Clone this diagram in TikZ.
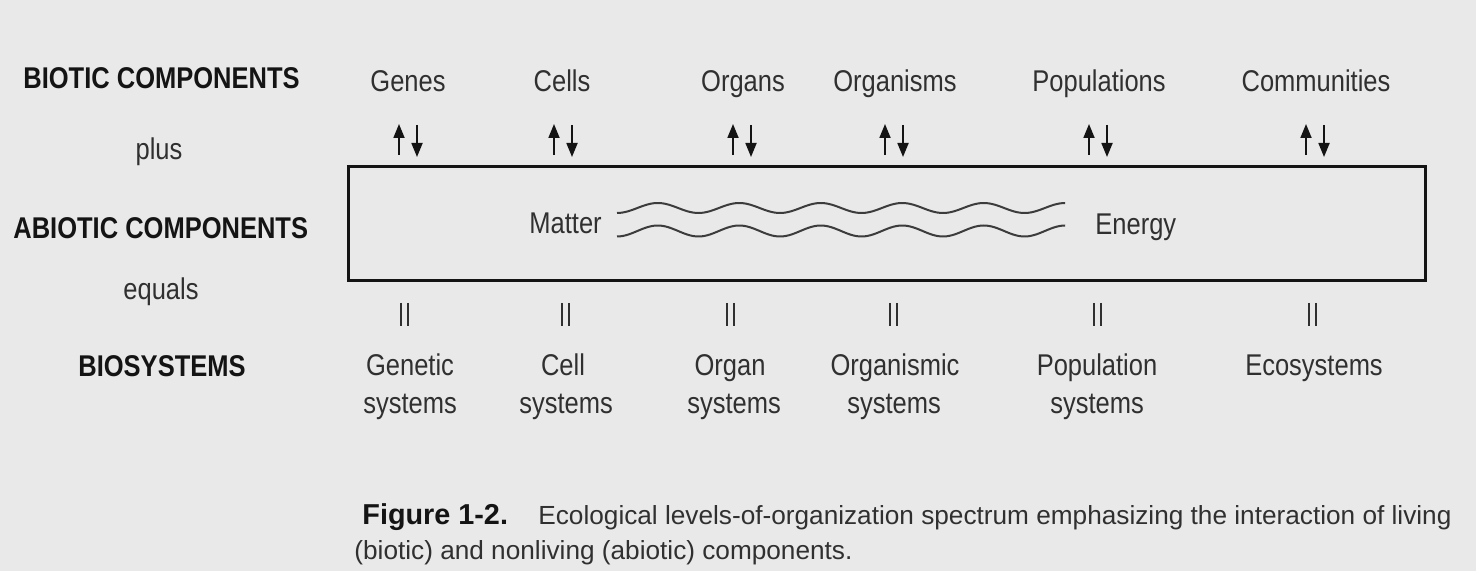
\documentclass[tikz,border=0pt]{standalone}
\usepackage{fontspec}
\setmainfont{Liberation Sans}
\newfontfamily\narrowfont{Liberation Sans}[FakeStretch=0.85]
\usetikzlibrary{arrows.meta}
\definecolor{bg}{RGB}{233,233,233}
\definecolor{ink}{RGB}{48,48,48}
\definecolor{inkdark}{RGB}{20,20,20}
\definecolor{rule}{RGB}{20,20,20}
\definecolor{wave}{RGB}{60,60,60}
\begin{document}
\begin{tikzpicture}[x=0.5pt,y=-0.5pt,
  lab/.style={inner sep=0pt, anchor=base, text=ink, font=\narrowfont\fontsize{15}{18}\selectfont},
  labw/.style={inner sep=0pt, anchor=base west, text=ink, font=\narrowfont\fontsize{15}{18}\selectfont},
  head/.style={inner sep=0pt, anchor=base west, text=inkdark, font=\narrowfont\bfseries\fontsize{15}{18}\selectfont},
  capb/.style={inner sep=0pt, anchor=base west, text=inkdark, font=\bfseries\fontsize{14.4}{17}\selectfont},
  capr/.style={inner sep=0pt, anchor=base west, text=ink, font=\fontsize{13.1}{16}\selectfont},
  flow/.style={draw=inkdark, line width=0.9pt, -{Triangle[width=5.5pt,length=7pt]}},
  eqbar/.style={draw=ink, line width=1pt},
  frame/.style={draw=rule, line width=1.5pt},
  wavy/.style={draw=wave, line width=1pt}
]
\fill[bg] (0,0) rectangle (1476,571);
\useasboundingbox (0,0) rectangle (1476,571);

% row labels
\node[head] (biotic) at (23,89) {BIOTIC COMPONENTS};
\node[lab] (plus) at (159,160) {plus};
\node[head] (abiotic) at (13,239) {ABIOTIC COMPONENTS};
\node[lab] (equals) at (161,300) {equals};
\node[head] (biosys) at (78,376) {BIOSYSTEMS};

% biotic components
\node[lab] (genes) at (408,92) {Genes};
\node[lab] (cells) at (562,92) {Cells};
\node[lab] (organs) at (743,92) {Organs};
\node[lab] (organisms) at (895,92) {Organisms};
\node[lab] (populations) at (1099,92) {Populations};
\node[lab] (communities) at (1316,92) {Communities};

% abiotic box
\node[draw=none, inner sep=0pt, minimum width=538.5pt, minimum height=56.5pt, anchor=north west] (box) at (348,167) {};
\draw[frame] (box.north west) rectangle (box.south east);
\node[labw] (matter) at (529,234) {Matter};
\node[labw] (energy) at (1095,235) {Energy};
\draw[wavy] plot[domain=0:5.5, samples=160, smooth] ({617+81.5*\x}, {208+5*cos(360*\x)});
\draw[wavy] plot[domain=0:5.5, samples=160, smooth] ({617+81.5*\x}, {231+5.5*cos(360*\x)});

% exchange arrows
\foreach \n/\c in {genes/408, cells/563, organs/742, organisms/894, populations/1098, communities/1315} {
  \coordinate (\n-ua) at (\c-9,155);
  \coordinate (\n-ub) at (\c-9,124);
  \coordinate (\n-da) at (\c+9,125);
  \coordinate (\n-db) at (\c+9,157);
  \draw[flow] (\n-ua) -- (\n-ub);
  \draw[flow] (\n-da) -- (\n-db);
}

% equals bars
\foreach \n/\c in {genes/404, cells/565, organs/730, organisms/893, populations/1097, communities/1312} {
  \coordinate (\n-e1) at (\c-3.5,303);
  \coordinate (\n-e2) at (\c-3.5,326);
  \coordinate (\n-e3) at (\c+3.5,303);
  \coordinate (\n-e4) at (\c+3.5,326);
  \draw[eqbar] (\n-e1) -- (\n-e2);
  \draw[eqbar] (\n-e3) -- (\n-e4);
}

% biosystems
\node[lab] (gen1) at (410,375) {Genetic};
\node[lab] (gen2) at (410,413) {systems};
\node[lab] (cel1) at (563,375) {Cell};
\node[lab] (cel2) at (566,413) {systems};
\node[lab] (org1) at (730,375) {Organ};
\node[lab] (org2) at (734,413) {systems};
\node[lab] (ogm1) at (895,375) {Organismic};
\node[lab] (ogm2) at (894,413) {systems};
\node[lab] (pop1) at (1097,375) {Population};
\node[lab] (pop2) at (1097,413) {systems};
\node[lab] (eco1) at (1314,375) {Ecosystems};

% caption
\node[capb] (fig) at (362,524) {Figure 1-2.};
\node[capr] (cap1) at (538,524) {Ecological levels-of-organization spectrum emphasizing the interaction of living};
\node[capr] (cap2) at (354,559) {(biotic) and nonliving (abiotic) components.};
\end{tikzpicture}
\end{document}
